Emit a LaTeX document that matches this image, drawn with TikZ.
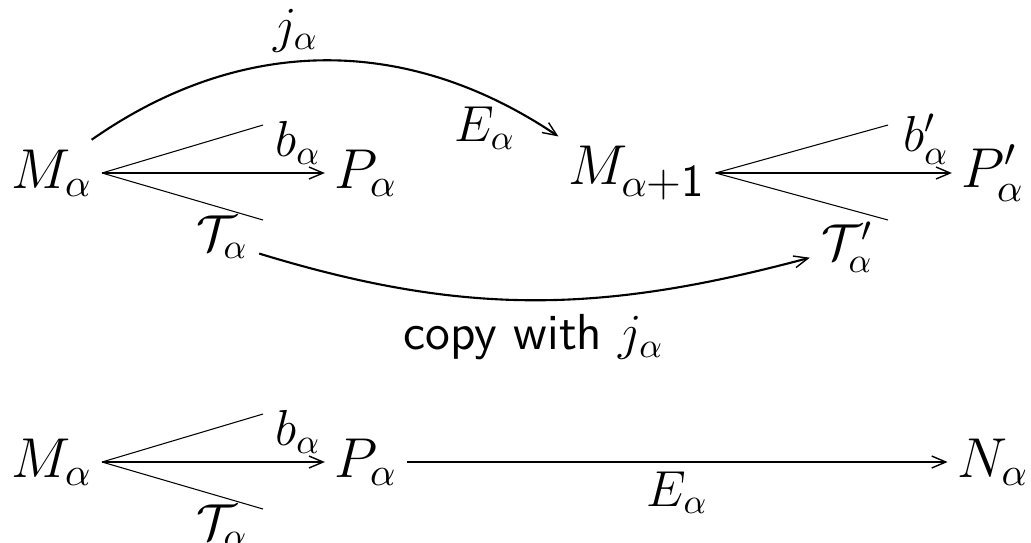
\RequirePackage{fix-cm}
\documentclass[tikz,border=0pt]{standalone}
\usepackage{amsmath}
\usetikzlibrary{arrows.meta}

\begin{document}
\begin{tikzpicture}[
  obj/.style={inner sep=2.6pt, font=\fontsize{16}{19}\selectfont},
  lbl/.style={inner sep=1pt, font=\fontsize{14.4}{17}\selectfont},
  arr/.style={-{Straight Barb[length=4pt,width=3.4pt,line width=0.4pt]}, line width=0.6pt},
  cone/.style={line width=0.3pt}
]
\useasboundingbox (0,0) rectangle (10.31,-5.42);

%% -- upper row ------------------------------------------------------------
\node[obj] (Ma1) at (0.52,-1.73) {$M_\alpha$};
\node[obj] (Pa1) at (3.66,-1.73) {$P_\alpha$};
\node[obj] (Mb1) at (6.37,-1.73) {$M_{\alpha\text{\fontsize{13}{15}\selectfont\sffamily +1}}$};
\node[obj] (Pb1) at (9.93,-1.73) {$P'_\alpha$};
\node[lbl, inner sep=3pt] (Ta1) at (2.22,-2.37) {$\mathcal{T}_\alpha$};
\node[lbl, inner sep=3pt] (Tb1) at (8.47,-2.47) {$\mathcal{T}'_\alpha$};

\coordinate (ca1) at (2.63,-1.25);
\coordinate (cb1) at (8.88,-1.25);
\coordinate (ca2) at (2.63,-2.20);
\coordinate (cb2) at (8.88,-2.20);

\draw[arr] (Ma1) -- node[lbl, above=0.04cm, pos=0.88] {$b_\alpha$} (Pa1);
\draw[arr] (Mb1) -- node[lbl, above=0.04cm, pos=0.89] {$b'_\alpha$} (Pb1);
\draw[cone] (Ma1.east) -- (ca1);
\draw[cone] (Ma1.east) -- (ca2);
\draw[cone] (Mb1.east) -- (cb1);
\draw[cone] (Mb1.east) -- (cb2);

%% -- curved arrows --------------------------------------------------------
\draw[arr] (Ma1.40) to[out=35, in=146]
  node[lbl, above=0.05cm, pos=0.44] {$j_\alpha$}
  node[lbl, below=0.07cm, pos=0.84] {$E_\alpha$} (Mb1.north west);
\draw[arr] (Ta1.-24) to[out=-17, in=195]
  node[lbl, below=0.1cm] {\textsf{copy with} $j_\alpha$} (Tb1.196);

%% -- lower row ------------------------------------------------------------
\node[obj] (Ma2) at (0.52,-4.62) {$M_\alpha$};
\node[obj] (Pa2) at (3.66,-4.62) {$P_\alpha$};
\node[obj] (Na2) at (9.93,-4.62) {$N_\alpha$};
\node[lbl, inner sep=3pt] (Ta2) at (2.22,-5.26) {$\mathcal{T}_\alpha$};

\coordinate (ca3) at (2.63,-4.14);
\coordinate (ca4) at (2.63,-5.09);

\draw[arr] (Ma2) -- node[lbl, above=0.04cm, pos=0.88] {$b_\alpha$} (Pa2);
\draw[arr] (Pa2) -- node[lbl, below=0.05cm] {$E_\alpha$} (Na2);
\draw[cone] (Ma2.east) -- (ca3);
\draw[cone] (Ma2.east) -- (ca4);

\end{tikzpicture}
\end{document}
